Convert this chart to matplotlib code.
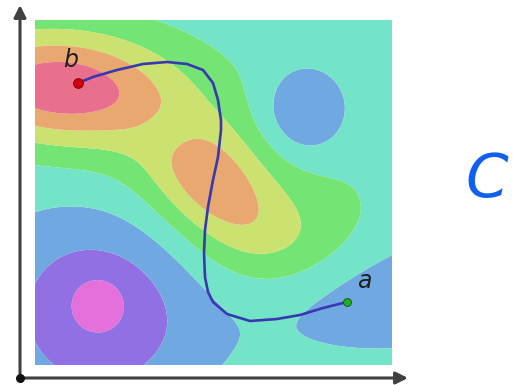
import numpy as np
import matplotlib
matplotlib.use("Agg")
import matplotlib.pyplot as plt

# ---- data (pixel-space coordinates of the illustration) ----
# landscape bumps: centre, amplitude, widths and tilt
bump_x = [58, 210, 235, 280, 168, 98, 98, 303, 440]
bump_y = [87, 183, 180, 240, 132, 312, 303, 115, 288]
bump_amp = [4.1, 2.3, 1.1, 0.6, -0.5, -2.4, -1.1, -1.8, -1.6]
bump_sx = [78, 53, 105, 45, 22, 72, 16, 31, 110]
bump_sy = [40, 34, 65, 30, 18, 70, 16, 33, 37]
bump_angle = [3, 45, 25, 0, 0, 0, 0, 0, -11]

levels = [-10, -2.5, -1.5, -0.5, 0.5, 1.5, 2.5, 3.5, 10]
band_colors = ["#e470dc", "#9070e2", "#70a8e2", "#74e4c8",
               "#74e474", "#cce270", "#e8a870", "#e8708c"]

path_x = [78, 93, 117, 143, 167, 187, 203, 213, 218, 221, 221, 218, 213, 208,
          205, 204, 205, 208, 213, 227, 250, 277, 300, 323, 347]
path_y = [83, 77, 70, 64, 62, 64, 70, 83, 100, 120, 130, 157, 180, 207,
          230, 253, 277, 292, 302, 314, 321, 319, 315, 308, 302]
start_pt = (78, 83)
end_pt = (347, 302)
start_label = "b"
end_label = "a"
label_text = "C"

W, H = 522, 385
fig = plt.figure(figsize=(W / 100, H / 100), dpi=100)
x0, x1, y0, y1 = 35, 392, 20, 365
ax = fig.add_axes([x0 / W, 1 - y1 / H, (x1 - x0) / W, (y1 - y0) / H])
xs = np.linspace(x0, x1, 400)
ys = np.linspace(y0, y1, 400)
X, Y = np.meshgrid(xs, ys)
Z = np.zeros_like(X)
for bx, by, a, sx, sy, ang in zip(bump_x, bump_y, bump_amp, bump_sx, bump_sy, bump_angle):
    t = np.deg2rad(ang)
    dx, dy = X - bx, Y - by
    u = dx * np.cos(t) + dy * np.sin(t)
    v = -dx * np.sin(t) + dy * np.cos(t)
    Z += a * np.exp(-0.5 * ((u / sx) ** 2 + (v / sy) ** 2))
ax.contourf(X, Y, Z, levels=levels, colors=band_colors, antialiased=True)
ax.plot(path_x, path_y, color="#3838b0", lw=1.9, solid_capstyle="round", zorder=3)
ax.scatter([start_pt[0]], [start_pt[1]], s=50, color="#d00010", edgecolor="#800000",
           linewidth=0.6, zorder=4)
ax.scatter([end_pt[0]], [end_pt[1]], s=32, color="#20b020", edgecolor="#105010",
           linewidth=0.6, zorder=4)
ax.text(start_pt[0] - 7, start_pt[1] - 11, start_label, fontsize=17, style="italic",
        color="#202020", ha="center", va="bottom")
ax.text(end_pt[0] + 17, end_pt[1] - 9, end_label, fontsize=17, style="italic",
        color="#202020", ha="center", va="bottom")
ax.set_xlim(x0, x1)
ax.set_ylim(y1, y0)
ax.axis("off")

# axis arrows and panel label (overlay in pixel coordinates)
ov = fig.add_axes([0, 0, 1, 1])
ov.set_xlim(0, W)
ov.set_ylim(H, 0)
ov.axis("off")
ov.annotate("", xy=(20, 5), xytext=(20, 378),
            arrowprops=dict(arrowstyle="-|>", color="#404040", lw=2.2,
                            mutation_scale=18, shrinkA=0, shrinkB=0))
ov.annotate("", xy=(408, 378), xytext=(20, 378),
            arrowprops=dict(arrowstyle="-|>", color="#404040", lw=2.2,
                            mutation_scale=18, shrinkA=0, shrinkB=0))
ov.scatter([20], [378], s=30, color="#101010", zorder=5)
ov.text(487, 180, label_text, fontsize=44, style="italic", color="#1060f0",
        ha="center", va="center")

fig.savefig("out.png", dpi=100)
